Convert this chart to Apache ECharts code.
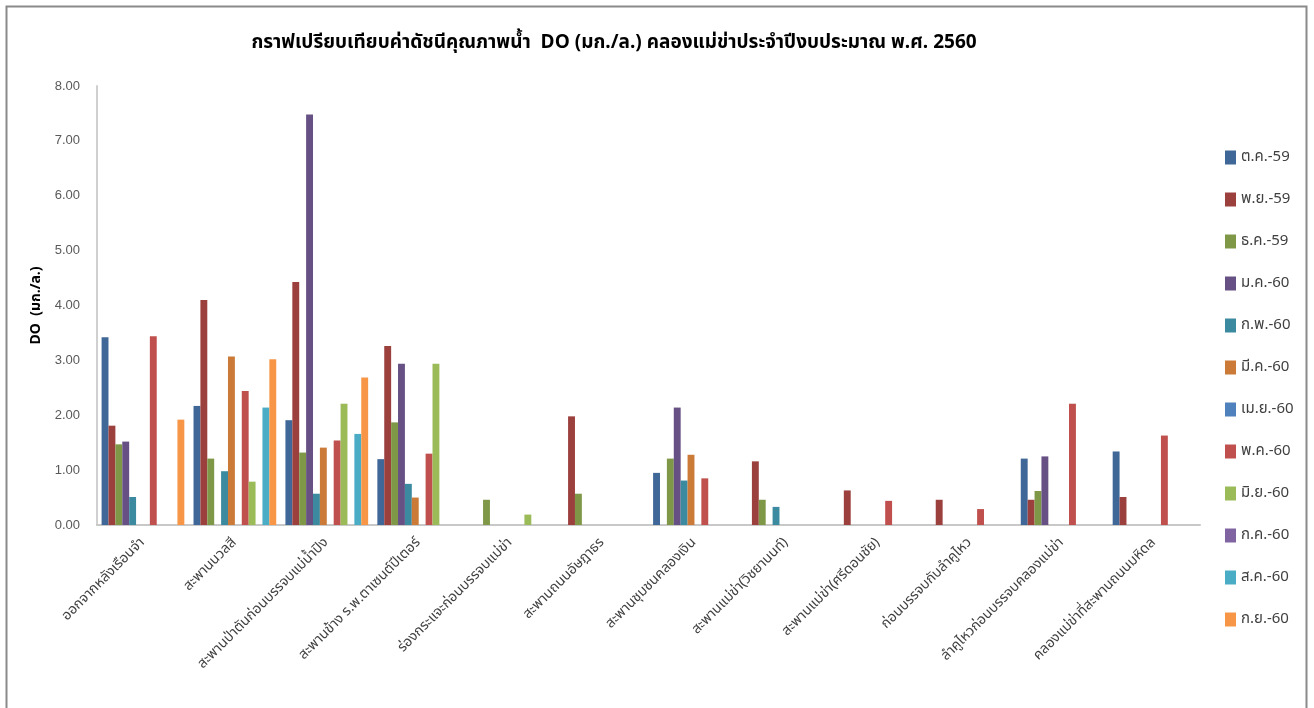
<!DOCTYPE html>
<html><head><meta charset="utf-8">
<script src="https://cdn.jsdelivr.net/npm/echarts@6/dist/echarts.min.js"></script>
<style>html,body{margin:0;padding:0;background:#fff}#c{width:1314px;height:708px}</style>
</head><body><div id="c"></div>
<script>
const categories = ['ออกจากหลังเรือนจำ','สะพานนวลสี','สะพานป่าตันก่อนบรรจบแม่น้ำปิง','สะพานข้าง ร.พ.ตาเซนต์ปีเตอร์','ร่องกระแจะก่อนบรรจบแม่ข่า','สะพานถนนอัษฎาธร','สะพานชุมชนคลองเงิน','สะพานแม่ข่า(วิชยานนท์)','สะพานแม่ข่า(ศรีดอนชัย)','ก่อนบรรจบกับลำคูไหว','ลำคูไหวก่อนบรรจบคลองแม่ข่า','คลองแม่ข่าที่สะพานถนนมหิดล'];
const months = ['ต.ค.-59','พ.ย.-59','ธ.ค.-59','ม.ค.-60','ก.พ.-60','มี.ค.-60','เม.ย.-60','พ.ค.-60','มิ.ย.-60','ก.ค.-60','ส.ค.-60','ก.ย.-60'];
const oct59 = [3.42, 2.17, 1.91, 1.20, null, null, 0.95, null, null, null, 1.21, 1.34];
const nov59 = [1.81, 4.10, 4.43, 3.26, null, 1.98, null, 1.16, 0.63, 0.46, 0.46, 0.51];
const dec59 = [1.47, 1.21, 1.32, 1.87, 0.46, 0.57, 1.21, 0.46, null, null, 0.62, null];
const jan60 = [1.52, null, 7.48, 2.94, null, null, 2.14, null, null, null, 1.25, null];
const feb60 = [0.51, 0.98, 0.57, 0.75, null, null, 0.81, 0.33, null, null, null, null];
const mar60 = [null, 3.07, 1.41, 0.50, null, null, 1.28, null, null, null, null, null];
const apr60 = [null, null, null, null, null, null, null, null, null, null, null, null];
const may60 = [3.44, 2.44, 1.54, 1.30, null, null, 0.85, null, 0.44, 0.29, 2.21, 1.63];
const jun60 = [null, 0.79, 2.21, 2.94, 0.19, null, null, null, null, null, null, null];
const jul60 = [null, null, null, null, null, null, null, null, null, null, null, null];
const aug60 = [null, 2.14, 1.66, null, null, null, null, null, null, null, null, null];
const sep60 = [1.92, 3.02, 2.69, null, null, null, null, null, null, null, null, null];
const seriesValues = [oct59, nov59, dec59, jan60, feb60, mar60, apr60, may60, jun60, jul60, aug60, sep60];
const yTicks = [0,1,2,3,4,5,6,7,8];
const colors = ['#3F6797','#9C403E','#7E9848','#675083','#3C8AA0','#CB7A37','#4F81BD','#C0504D','#9BBB59','#8064A2','#4BACC6','#F79646'];

const thaiFont = 'Tahoma, "Noto Sans Thai", Garuda, Loma, "DejaVu Sans", sans-serif';
const chart = echarts.init(document.getElementById('c'), null, {renderer:'canvas'});
chart.setOption({
  animation:false,
  backgroundColor:'#fff',
  color: colors,
  title:{
    text:'กราฟเปรียบเทียบค่าดัชนีคุณภาพน้ำ  DO (มก./ล.) คลองแม่ข่าประจำปีงบประมาณ พ.ศ. 2560',
    left:609, top:30, textAlign:'center',
    textStyle:{fontFamily:thaiFont, fontSize:19, fontWeight:'bold', color:'#000'}
  },
  graphic:[{type:'rect', shape:{x:6.5,y:6.5,width:1300,height:720}, style:{fill:'none', stroke:'#8a8a8a', lineWidth:2}, silent:true}],
  legend:{
    orient:'vertical', left:1220, top:145, itemGap:27, itemWidth:11, itemHeight:14,
    icon:'rect',
    textStyle:{fontFamily:thaiFont, fontSize:15, color:'#404040'},
    data: months
  },
  grid:{left:97, right:114, top:86, bottom:183, containLabel:false},
  xAxis:{
    type:'category', data:categories,
    axisLine:{lineStyle:{color:'#c8c8c8', width:2}},
    axisTick:{show:false},
    axisLabel:{rotate:45, interval:0, fontFamily:thaiFont, fontSize:14, color:'#404040', margin:16}
  },
  yAxis:{
    type:'value', min:0, max:8, interval:1,
    name:'DO  (มก./ล.)', nameLocation:'middle', nameGap:46, nameRotate:90,
    nameTextStyle:{fontFamily:thaiFont, fontSize:14, fontWeight:'bold', color:'#000'},
    axisLine:{show:true, lineStyle:{color:'#d0d0d0', width:2}},
    axisTick:{show:false},
    splitLine:{show:false},
    axisLabel:{formatter:v=>v.toFixed(2), fontFamily:'"Liberation Sans", Arial, sans-serif', fontSize:13, color:'#595959', margin:17}
  },
  series: months.map((m,i)=>({
    name:m, type:'bar', data:seriesValues[i],
    barGap:'0%', barCategoryGap:'10%'
  }))
});
</script></body></html>
